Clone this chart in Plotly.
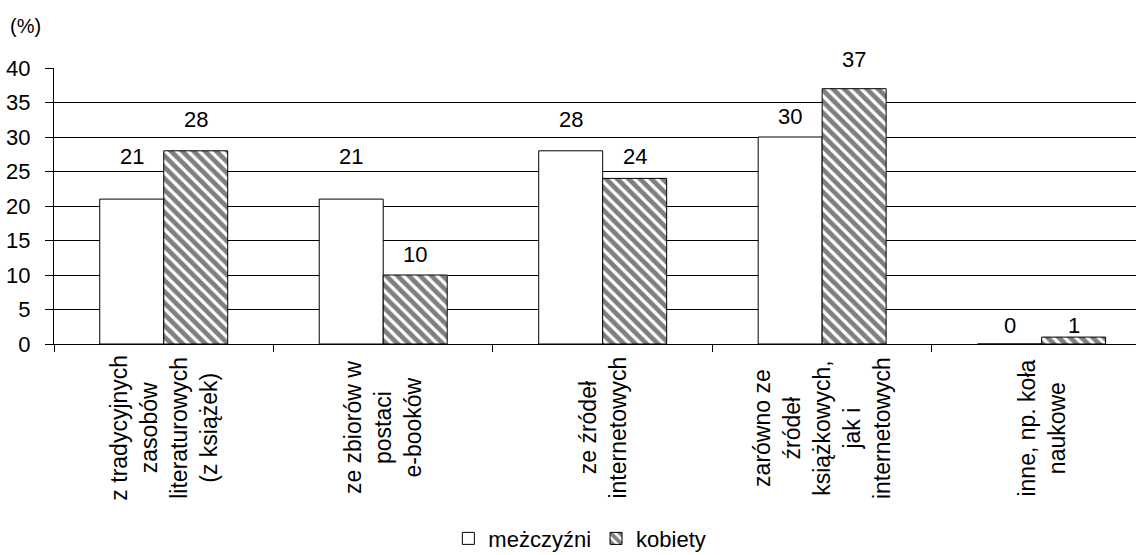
import plotly.graph_objects as go

# Source categories (multi-line labels, rotated under the axis)
categories = [
    "z tradycyjnych<br>zasobów<br>literaturowych<br>(z książek)",
    "ze zbiorów w<br>postaci<br>e-booków",
    "ze źródeł<br>internetowych",
    "zarówno ze<br>źródeł<br>książkowych,<br>jak i<br>internetowych",
    "inne, np. koła<br>naukowe",
]
cat_keys = ["c0", "c1", "c2", "c3", "c4"]

men = [21, 21, 28, 30, 0]
women = [28, 10, 24, 37, 1]

series_names = ["meżczyźni", "kobiety"]
y_ticks = [0, 5, 10, 15, 20, 25, 30, 35, 40]

# vertical offsets (px) of the value labels above each bar
men_label_shift = [43, 43, 31, 21, 19]
women_label_shift = [31, 21, 22, 29, 12]

FONT = "Arial, Liberation Sans, sans-serif"
FS = 22

fig = go.Figure()
fig.add_trace(go.Bar(
    x=cat_keys, y=men, name=series_names[0],
    marker=dict(color="white", line=dict(color="black", width=1)),
))
fig.add_trace(go.Bar(
    x=cat_keys, y=women, name=series_names[1],
    marker=dict(
        color="white", line=dict(color="black", width=1),
        pattern=dict(shape="\\", fgcolor="black", bgcolor="white",
                     size=8, solidity=0.6),
    ),
))

annotations = []
# value labels
for i, k in enumerate(cat_keys):
    annotations.append(dict(x=k, y=men[i], xref="x", yref="y", text=str(men[i]),
                            showarrow=False, xshift=-32, yshift=men_label_shift[i],
                            yanchor="middle", font=dict(family=FONT, size=FS, color="black")))
    annotations.append(dict(x=k, y=women[i], xref="x", yref="y", text=str(women[i]),
                            showarrow=False, xshift=32, yshift=women_label_shift[i],
                            yanchor="middle", font=dict(family=FONT, size=FS, color="black")))
# rotated category labels
for k, lab in zip(cat_keys, categories):
    annotations.append(dict(x=k, y=-0.304, xref="x", yref="paper", text=lab,
                            showarrow=False, textangle=-90, align="center",
                            xanchor="center", yanchor="middle",
                            font=dict(family=FONT, size=23, color="black")))
# unit label
annotations.append(dict(x=-0.0425, y=1.152, xref="paper", yref="paper", text="(%)",
                        showarrow=False, xanchor="left", yanchor="middle",
                        font=dict(family=FONT, size=20, color="black")))

fig.update_layout(
    width=1136, height=555,
    margin=dict(l=54, r=0, t=68, b=211, autoexpand=False),
    paper_bgcolor="white", plot_bgcolor="white",
    barmode="group", bargap=0.417, bargroupgap=0,
    font=dict(family=FONT, size=FS, color="black"),
    showlegend=True,
    legend=dict(orientation="h", x=0.486, xanchor="center", y=-0.705, yanchor="middle",
                font=dict(family=FONT, size=FS, color="black"),
                bgcolor="rgba(0,0,0,0)", itemwidth=30),
    annotations=annotations,
)
fig.update_xaxes(
    type="category", range=[-0.5, 4.43],
    showline=True, linecolor="black", linewidth=1,
    ticks="outside", tickson="boundaries", ticklen=7, tickcolor="black",
    showticklabels=False, showgrid=False,
)
fig.update_yaxes(
    range=[0, 40], tickvals=y_ticks,
    showline=True, linecolor="black", linewidth=1,
    ticks="outside", ticklen=8, tickcolor="black", ticklabelstandoff=10,
    showgrid=True, gridcolor="black", gridwidth=1, zeroline=False,
    tickfont=dict(family=FONT, size=FS, color="black"),
)

fig.write_html("out.html")
